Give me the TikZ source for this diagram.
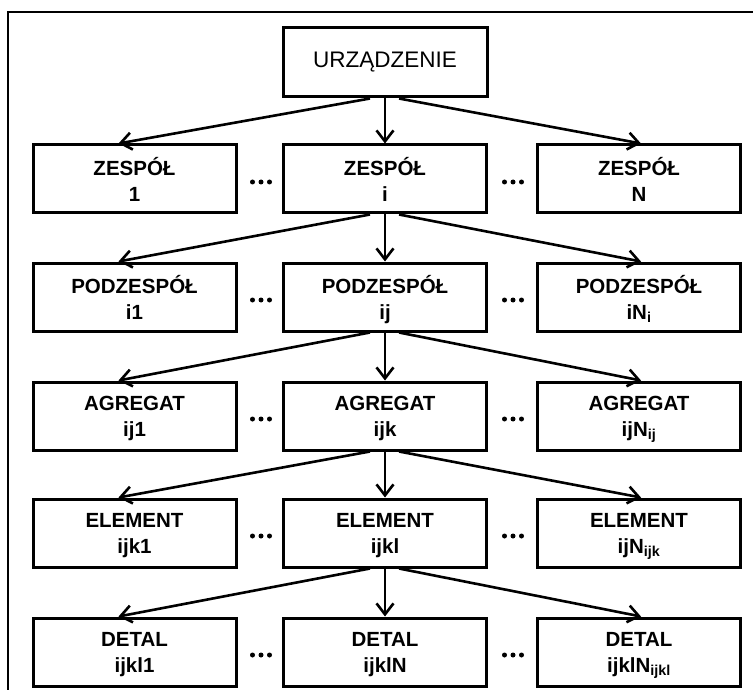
\documentclass[tikz,border=0pt]{standalone}
\usepackage{fontspec}
\setmainfont{Liberation Sans}
\usetikzlibrary{arrows.meta}
\tikzset{
  x=1pt, y=-1pt,
  unitbox/.style={draw, line width=3pt, minimum width=203pt, minimum height=68pt,
    inner sep=0pt, align=center, font=\bfseries\fontsize{20.5}{26}\selectfont},
  topbox/.style={draw, line width=3pt, minimum width=204pt, minimum height=69pt,
    inner sep=0pt, font=\fontsize{22.5}{26}\selectfont},
  link/.style={line width=2.6pt, -{Straight Barb[length=11pt,width=17pt,line width=2.6pt]}},
  dotmark/.style={fill=black, circle, inner sep=0pt, minimum size=5pt},
}
\begin{document}
\begin{tikzpicture}
\useasboundingbox (0,0) rectangle (753,690);
\draw[line width=2.4pt] (8,700) -- (8,12) -- (760,12);

\node[topbox] (u) at (385,62.5) {URZĄDZENIE};

% rows (text lowered slightly inside each box)
\tikzset{unitbox/.append style={text depth=0pt}}
\node[unitbox] (z1) at (134.5,179) {ZESPÓŁ\\1};
\node[unitbox] (zi) at (385,179) {ZESPÓŁ\\i};
\node[unitbox] (zN) at (639,179) {ZESPÓŁ\\N};

\node[unitbox] (p1) at (134.5,297) {PODZESPÓŁ\\i1};
\node[unitbox] (pj) at (385,297) {PODZESPÓŁ\\ij};
\node[unitbox] (pN) at (639,297) {PODZESPÓŁ\\iN\textsubscript{i}};

\node[unitbox] (a1) at (134.5,416) {AGREGAT\\ij1};
\node[unitbox] (ak) at (385,416) {AGREGAT\\ijk};
\node[unitbox] (aN) at (639,416) {AGREGAT\\ijN\textsubscript{ij}};

\node[unitbox] (e1) at (134.5,533) {ELEMENT\\ijk1};
\node[unitbox] (el) at (385,533) {ELEMENT\\ijkl};
\node[unitbox] (eN) at (639,533) {ELEMENT\\ijN\textsubscript{ijk}};

\node[unitbox] (d1) at (134.5,652) {DETAL\\ijkl1};
\node[unitbox] (dl) at (385,652) {DETAL\\ijklN};
\node[unitbox] (dN) at (639,652) {DETAL\\ijklN\textsubscript{ijkl}};

% ellipses between boxes
\foreach \yy in {182,300,419,536,655}{
  \foreach \xx in {252.5,261,269.5,504.5,513,521.5}{
    \node[dotmark] at (\xx,\yy) {};
  }
}

% connectors
\foreach \p/\l/\m/\r in {u/z1/zi/zN, zi/p1/pj/pN, pj/a1/ak/aN, ak/e1/el/eN, el/d1/dl/dN}{
  \draw[link] ([xshift=-15pt]\p.south) -- ([xshift=-16pt]\l.north);
  \draw[link] (\p.south) -- (\m.north);
  \draw[link] ([xshift=14pt]\p.south) -- ([xshift=2pt]\r.north);
}
\end{tikzpicture}
\end{document}
